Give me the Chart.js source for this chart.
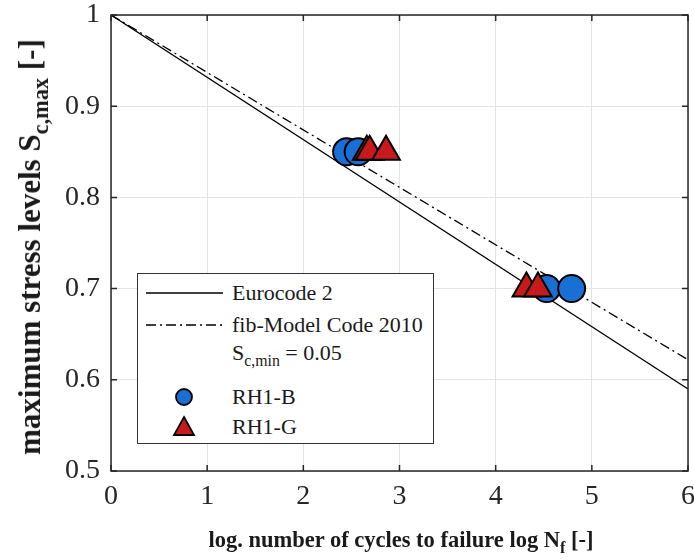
<!DOCTYPE html>
<html>
<head>
<meta charset="utf-8">
<script src="https://cdn.jsdelivr.net/npm/chart.js@4.4.1/dist/chart.umd.min.js"></script>
<style>
  html, body { margin: 0; padding: 0; background: #fff; }
  #wrap { position: relative; width: 694px; height: 559px; font-family: "Liberation Serif", "Times New Roman", serif; color: #1a1a1a; }
  #chart { position: absolute; left: 0; top: 0; }
  .title { position: absolute; font-weight: bold; white-space: nowrap; }
  #xTitle { left: 401px; top: 540px; font-size: 22.5px; transform: translate(-50%, -50%); }
  #yTitle { left: 30px; top: 247px; font-size: 31px; transform: translate(-50%, -50%) rotate(-90deg); }
  sub { font-size: 0.72em; vertical-align: -0.35em; line-height: 0; }
  #legend { position: absolute; left: 137px; top: 273px; width: 295px; height: 169px; background: #fff; border: 1.5px solid #333; font-size: 22px; }
  .row { position: absolute; left: 0; height: 24px; line-height: 24px; }
  .row .txt { position: absolute; left: 94px; top: 0; white-space: nowrap; }
  .row svg { position: absolute; left: 6px; top: 0; }
</style>
</head>
<body>
<div id="wrap">
  <canvas id="chart" width="694" height="559"></canvas>
  <div class="title" id="xTitle">log. number of cycles to failure log N<sub>f</sub> [-]</div>
  <div class="title" id="yTitle">maximum stress levels S<sub>c,max</sub> [-]</div>
  <div id="legend">
    <div class="row" style="top:7px"><svg width="80" height="24"><line x1="2" y1="12" x2="79" y2="12" stroke="#000" stroke-width="1.3"/></svg><span class="txt">Eurocode 2</span></div>
    <div class="row" style="top:39px"><svg width="80" height="24"><line x1="2" y1="12" x2="79" y2="12" stroke="#000" stroke-width="1.3" stroke-dasharray="10,4,2,4"/></svg><span class="txt">fib-Model Code 2010</span></div>
    <div class="row" style="top:67px"><span class="txt">S<sub>c,min</sub> = 0.05</span></div>
    <div class="row" style="top:111px"><svg width="80" height="24"><circle cx="40" cy="12" r="8" fill="#1a6fd4" stroke="#000" stroke-width="1.8"/></svg><span class="txt">RH1-B</span></div>
    <div class="row" style="top:141px"><svg width="80" height="24"><polygon points="40,2 50,20 30,20" fill="#c8191b" stroke="#000" stroke-width="1.8" stroke-linejoin="miter"/></svg><span class="txt">RH1-G</span></div>
  </div>
</div>
<script>
const xTicks = [0, 1, 2, 3, 4, 5, 6];
const yTicks = [0.5, 0.6, 0.7, 0.8, 0.9, 1];

// design lines (end points)
const ec2X = [0, 6];
const ec2Y = [1, 0.59];
const fibX = [0, 6];
const fibY = [1, 0.622];

// test results
const rh1bX = [2.45, 2.57, 4.53, 4.79];
const rh1bY = [0.85, 0.85, 0.70, 0.70];
const rh1gX = [2.66, 2.69, 2.86, 4.32, 4.44];
const rh1gY = [0.85, 0.85, 0.85, 0.70, 0.70];

function pts(xs, ys) {
  return xs.map((x, i) => ({ x, y: ys[i] }));
}

const tickFont = { family: "Liberation Serif", size: 28 };

// keep the plot box where the reference has it
function noPad(s) {
  s.paddingTop = 0;
  s.paddingBottom = 0;
  s.paddingLeft = 0;
  s.paddingRight = 0;
}

const boxPlugin = {
  id: "box",
  afterDraw(c) {
    const { ctx, chartArea: a, scales } = c;
    ctx.save();
    ctx.strokeStyle = "#262626";
    ctx.lineWidth = 1.5;
    ctx.beginPath();
    xTicks.forEach((t) => {
      const px = scales.x.getPixelForValue(t);
      ctx.moveTo(px, a.bottom); ctx.lineTo(px, a.bottom - 6);
      ctx.moveTo(px, a.top); ctx.lineTo(px, a.top + 6);
    });
    yTicks.forEach((t) => {
      const py = scales.y.getPixelForValue(t);
      ctx.moveTo(a.left, py); ctx.lineTo(a.left + 6, py);
      ctx.moveTo(a.right, py); ctx.lineTo(a.right - 6, py);
    });
    ctx.stroke();
    ctx.strokeRect(a.left, a.top, a.right - a.left, a.bottom - a.top);
    ctx.restore();
  }
};

new Chart(document.getElementById("chart"), {
  type: "scatter",
  data: {
    datasets: [
      {
        label: "RH1-G",
        data: pts(rh1gX, rh1gY),
        pointStyle: "triangle",
        pointRadius: 16,
        backgroundColor: "#c8191b",
        borderColor: "#000",
        borderWidth: 2,
        order: 1
      },
      {
        label: "RH1-B",
        data: pts(rh1bX, rh1bY),
        pointStyle: "circle",
        pointRadius: 13.5,
        backgroundColor: "#1a6fd4",
        borderColor: "#000",
        borderWidth: 2,
        order: 2
      },
      {
        label: "Eurocode 2",
        data: pts(ec2X, ec2Y),
        showLine: true,
        pointRadius: 0,
        borderColor: "#000",
        borderWidth: 1.3,
        order: 3
      },
      {
        label: "fib-Model Code 2010",
        data: pts(fibX, fibY),
        showLine: true,
        pointRadius: 0,
        borderColor: "#000",
        borderWidth: 1.3,
        borderDash: [10, 4, 2, 4],
        order: 4
      }
    ]
  },
  options: {
    responsive: false,
    animation: false,
    layout: { autoPadding: false, padding: { top: 15, right: 6, left: 0, bottom: 0 } },
    plugins: { legend: { display: false }, tooltip: { enabled: false } },
    scales: {
      x: {
        type: "linear",
        min: 0,
        max: 6,
        afterFit: (s) => { s.height = 88; noPad(s); },
        afterBuildTicks: (s) => { s.ticks = xTicks.map((v) => ({ value: v })); },
        ticks: { font: tickFont, color: "#262626", padding: 9, callback: (v) => String(v) },
        grid: { color: "#e3e3e3", lineWidth: 1, drawTicks: false },
        border: { display: false }
      },
      y: {
        type: "linear",
        min: 0.5,
        max: 1,
        afterFit: (s) => { s.width = 111; noPad(s); },
        afterBuildTicks: (s) => { s.ticks = yTicks.map((v) => ({ value: v })); },
        ticks: { font: tickFont, color: "#262626", padding: 11, callback: (v) => String(Math.round(v * 10) / 10) },
        grid: { color: "#e3e3e3", lineWidth: 1, drawTicks: false },
        border: { display: false }
      }
    }
  },
  plugins: [boxPlugin]
});
</script>
</body>
</html>
